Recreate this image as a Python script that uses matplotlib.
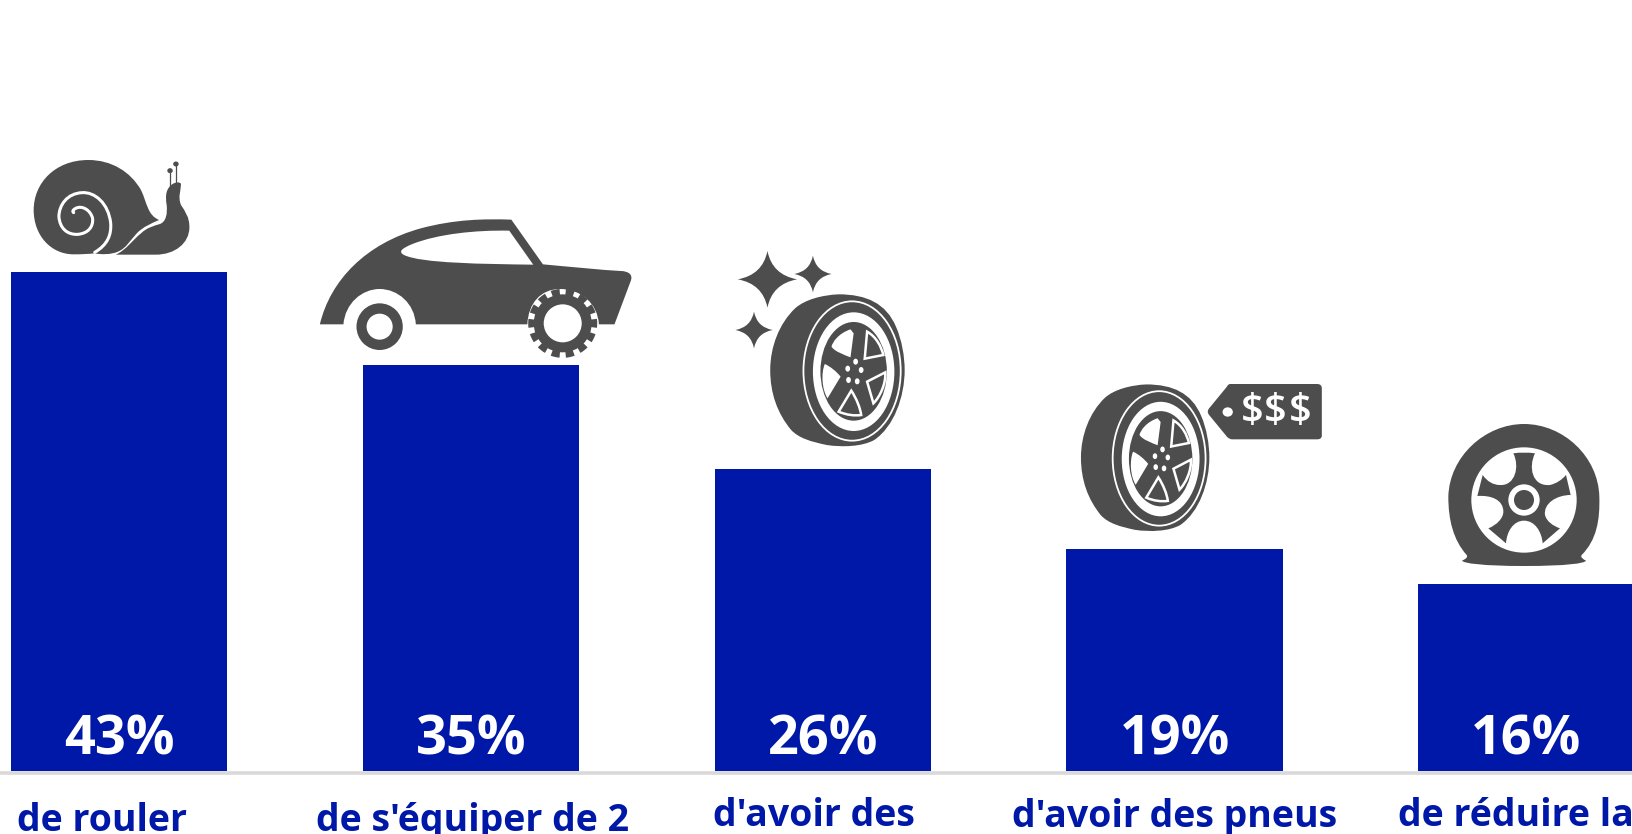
"""Bar chart with pictograms on top of the bars."""

import re

import matplotlib

matplotlib.use("Agg")
import matplotlib.pyplot as plt
import numpy as np
from matplotlib.patches import PathPatch, Wedge
from matplotlib.path import Path
from matplotlib.transforms import Affine2D

values = [43, 35, 26, 19.1, 16.1]
value_labels = ["43%", "35%", "26%", "19%", "16%"]
categories = [
    "de rouler",
    "de s'équiper de 2",
    "d'avoir des",
    "d'avoir des pneus",
    "de réduire la",
]

BLUE = "#0018a8"
GREY = "#4d4d4d"
W, H = 1632, 834
PX_PER_PCT = 11.6
BASE_Y = 771
PITCH = 351.8
FIRST_X = 119.2

plt.rcParams["font.family"] = ["Open Sans", "DejaVu Sans"]

CODES = {"M": (Path.MOVETO, 1), "L": (Path.LINETO, 1), "Q": (Path.CURVE3, 2), "C": (Path.CURVE4, 3)}


def svg(d):
    verts, codes = [], []
    for cmd, args in re.findall(r"([MLQCZ])([^MLQCZ]*)", d):
        if cmd == "Z":
            verts.append(verts[-1])
            codes.append(Path.CLOSEPOLY)
            continue
        nums = [float(n) for n in re.split(r"[ ,]+", args.strip())]
        code, npts = CODES[cmd]
        for i in range(0, len(nums), 2):
            verts.append(nums[i:i + 2])
            codes.append(code)
    return Path(verts, codes)


def ell(cx, cy, rx, ry):
    return Path.unit_circle().transformed(Affine2D().scale(rx, ry).translate(cx, cy))


def star(cx, cy, rx, ry):
    k = 0.16
    return svg(
        f"M {cx},{cy - ry} Q {cx + k * rx},{cy - k * ry} {cx + rx},{cy} "
        f"Q {cx + k * rx},{cy + k * ry} {cx},{cy + ry} "
        f"Q {cx - k * rx},{cy + k * ry} {cx - rx},{cy} "
        f"Q {cx - k * rx},{cy - k * ry} {cx},{cy - ry} Z"
    )


fig = plt.figure(figsize=(W / 100, H / 100), dpi=100)
ax = fig.add_axes([0, 0, 1, 1])
ax.set_xlim(-FIRST_X / PITCH, (W - FIRST_X) / PITCH)
ax.set_ylim(-(H - BASE_Y) / PX_PER_PCT, BASE_Y / PX_PER_PCT)
ax.axis("off")

x = np.arange(len(values))
ax.axhline(-0.17, color="#d9d9d9", linewidth=2.6, zorder=1)
ax.bar(x, values, width=216.5 / PITCH, color=BLUE, zorder=2)
for xi, label in zip(x, value_labels):
    ax.text(xi, 1.45, label, color="white", fontsize=39, fontweight="bold",
            ha="center", va="baseline", zorder=3)

# overlay in reference pixels, y going down
ov = fig.add_axes([0, 0, 1, 1], facecolor="none")
ov.set_xlim(0, W)
ov.set_ylim(H, 0)
ov.axis("off")

label_pos = [(102, 831), (473, 831), (814, 826), (1175, 827), (1398, 826)]
for (lx, ly), text in zip(label_pos, categories):
    ha = "left" if text.startswith("de réduire") else "center"
    ov.text(lx, ly, text, color=BLUE, fontsize=27, fontweight="bold", ha=ha, va="baseline")


def add(path, tr, color=GREY, **kw):
    p = PathPatch(path.transformed(tr), facecolor=color, edgecolor="none", linewidth=0, **kw)
    ov.add_patch(p)


def line(path, tr, lw, color="white"):
    ov.add_patch(PathPatch(path.transformed(tr), facecolor="none", edgecolor=color, linewidth=lw,
                           capstyle="round"))


# snail and car were traced on a crop with x / 2.376, y / 3 + 140
t1 = Affine2D().scale(1 / 2.376, 1 / 3).translate(0, 140)
add(svg("M 378,240 C 350,225 350,190 335,150 C 310,95 265,60 210,60 C 130,60 80,130 80,210 "
        "C 80,285 120,343 175,343 C 195,343 210,342 225,340 C 240,344 265,344 280,335 "
        "C 300,325 310,300 325,280 C 340,260 360,250 378,240 Z"), t1)
line(svg("M 225,337 C 255,315 265,285 263,250 C 258,190 225,155 195,158 C 160,160 140,195 140,230 "
         "C 142,265 160,285 185,283 C 210,280 222,260 220,235 C 215,210 195,195 180,205 "
         "C 172,210 172,215 175,218"), t1, 2.2)
add(svg("M 275,344 C 300,330 315,300 335,280 C 350,262 365,258 380,252 C 395,245 398,220 396,195 "
        "C 392,165 395,145 410,132 C 418,126 428,125 430,132 C 430,150 422,170 430,195 "
        "C 440,215 450,230 450,262 C 450,310 415,344 370,344 Z"), t1)
line(svg("M 405,140 L 405,92"), t1, 0.9, GREY)
line(svg("M 418,130 L 418,72"), t1, 0.9, GREY)
add(ell(404, 92, 6.5, 7.5), t1)
add(ell(418, 72, 6.5, 7.5), t1)

add(svg("M 760,553 C 785,420 870,310 1000,265 C 1080,238 1150,236 1215,239 L 1290,373 "
        "C 1350,380 1430,390 1475,393 C 1495,394 1505,405 1498,425 L 1460,553 L 1423,553 "
        "C 1420,490 1380,447 1330,447 C 1285,447 1255,490 1253,553 L 988,553 "
        "C 985,490 945,447 902,447 C 860,447 820,490 816,553 Z"), t1)
add(svg("M 1210,272 L 1267,374 C 1150,372 1000,370 960,345 C 945,335 955,325 980,312 "
        "C 1040,282 1130,270 1210,272 Z"), t1, "white")
add(ell(902, 560, 55, 70), t1)
add(ell(902, 560, 31, 39), t1, "white")

gx, gy = 1337 / 2.376, 140 + 550 / 3
ov.add_patch(plt.Circle((gx, gy), 29, color=GREY, lw=0))
for a in np.arange(0, 360, 360 / 14):
    ov.add_patch(Wedge((gx, gy), 34.5, a - 7.5, a + 7.5, width=7, facecolor=GREY, lw=0))
ov.add_patch(plt.Circle((gx, gy), 19, color="white", lw=0))


# tyre drawn in its own crop coordinates (x / 2.529, y / 3)
def tyre(tr):
    add(svg("M 300,163 C 370,163 420,190 445,260 C 460,300 467,350 467,390 C 467,470 440,560 390,600 "
            "C 360,620 310,622 270,615 C 230,605 200,595 180,570 C 145,520 127,460 127,390 "
            "C 127,320 150,250 190,205 C 215,178 260,165 300,163 Z"), tr)
    line(ell(334, 393, 123, 209), tr, 1.3)
    add(ell(338, 395, 103, 178), tr, "white")
    add(ell(338, 394, 84, 148), tr)
    add(svg("M 330,268 C 300,280 285,305 282,320 C 290,335 315,345 330,352 L 338,280 Z"), tr, "white")
    add(svg("M 265,372 C 255,400 258,450 272,475 L 305,410 C 295,395 280,380 265,372 Z"), tr, "white")
    for d in ("M 372,275 C 395,290 408,320 413,345 L 366,356 Z",
              "M 418,397 C 420,430 405,470 388,490 L 372,425 Z",
              "M 332,452 C 345,475 355,505 357,525 C 340,528 320,525 300,515 Z"):
        line(svg(d), tr, 1.8)
    for cx, cy in ((343, 365), (357, 390), (347, 424), (325, 420), (323, 386)):
        add(ell(cx, cy, 6, 9), tr, "white")


t4 = Affine2D().scale(1 / 2.529, 1 / 3).translate(720, 240)
tyre(t4)
add(star(120, 118, 75, 85), t4)
add(star(235, 102, 47, 55), t4)
add(star(86, 270, 47, 55), t4)

# second tyre is the same shape, a bit smaller
t4b = Affine2D().scale(0.955 / 2.529, 0.965 / 3).translate(1033, 332)
tyre(t4b)
add(svg("M 1290,432 L 1510,432 Q 1522,432 1522,445 L 1522,587 Q 1522,598 1510,598 L 1295,598 "
        "Q 1288,598 1282,590 L 1237,525 Q 1230,515 1237,505 L 1282,440 Q 1285,432 1290,432 Z"), t4)
add(ell(1284, 516, 13, 14), t4, "white")
for zx in (1345, 1405, 1467):
    ov.text(720 + zx / 2.529, 240 + 515 / 3, "$", color="white", fontsize=29, fontweight="semibold",
            ha="center", va="center")

t5 = Affine2D().scale(1 / 3, 1 / 3).translate(1400, 400)
add(svg("M 372,72 C 490,72 595,170 598,290 C 600,360 590,420 545,465 C 540,472 550,478 558,482 "
        "C 555,490 500,498 372,498 C 250,498 190,490 186,482 C 195,478 205,472 200,465 "
        "C 160,420 145,360 145,290 C 148,170 255,72 372,72 Z"), t5)
add(ell(372, 300, 158, 158), t5, "white")
add(svg("M 340,160 Q 372,155 405,160 C 385,200 395,260 450,255 C 470,250 485,240 498,225 L 512,285 "
        "C 470,285 430,310 435,345 C 440,365 460,378 480,385 L 428,430 C 425,395 405,362 372,362 "
        "C 340,362 320,395 318,430 L 265,385 C 290,375 310,355 310,335 C 310,300 275,285 232,288 "
        "L 248,225 C 262,245 280,255 300,255 C 345,258 360,200 340,160 Z"), t5)
add(ell(372, 300, 47, 47), t5, "white")
add(ell(372, 300, 30, 30), t5)

fig.savefig("out.png", dpi=100)
plt.close(fig)
